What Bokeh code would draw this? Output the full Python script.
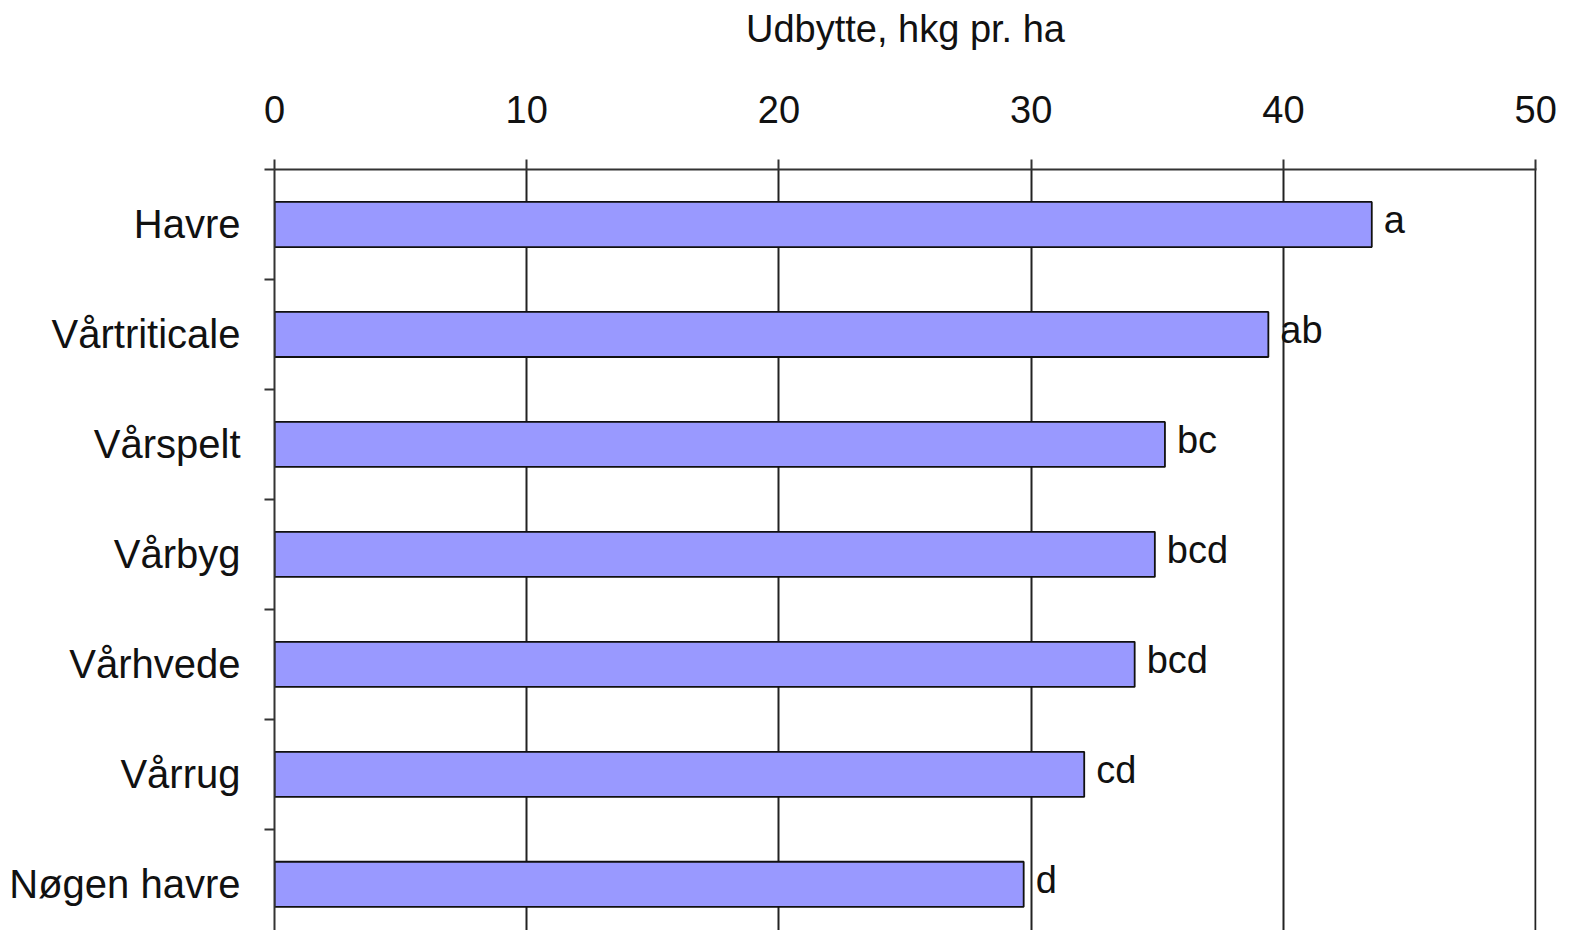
from bokeh.plotting import figure
from bokeh.models import Range1d, FixedTicker, ColumnDataSource, LabelSet
from bokeh.core.properties import value
from bokeh.embed import file_html
from bokeh.resources import INLINE

categories = ["Havre", "Vårtriticale", "Vårspelt", "Vårbyg", "Vårhvede", "Vårrug", "Nøgen havre"]
values = [43.5, 39.4, 35.3, 34.9, 34.1, 32.1, 29.7]
letters = ["a", "ab", "bc", "bcd", "bcd", "cd", "d"]
x_ticks = [0, 10, 20, 30, 40, 50]
x_title = "Udbytte, hkg pr. ha"

FONT = "Liberation Sans"
n = len(categories)
centers = [i + 0.5 for i in range(n)]
bounds = [float(i) for i in range(n + 1)]

src = ColumnDataSource(dict(y=centers, v=values, lab=letters))

p = figure(width=1566, height=930, output_backend="svg", toolbar_location=None,
           x_range=Range1d(0, 50.03), y_range=Range1d(6.92, 0),
           x_axis_location="above",
           min_border_left=274, min_border_right=30, min_border_top=169, min_border_bottom=0)
p.outline_line_color = None
p.background_fill_color = "white"

p.hbar(y="y", right="v", left=0, height=0.41, source=src,
       fill_color="#9999FF", line_color="#111111", line_width=1.8)

labels = LabelSet(x="v", y="y", text="lab", source=src, x_offset=12, y_offset=4,
                  text_font=value(FONT), text_font_size="38px", text_color="#111111",
                  text_baseline="middle", text_align="left")
p.add_layout(labels)

# x axis (top)
xa = p.xaxis[0]
xa.ticker = FixedTicker(ticks=x_ticks)
xa.axis_label = x_title
xa.axis_label_text_font = FONT
xa.axis_label_text_font_size = "38px"
xa.axis_label_text_font_style = "normal"
xa.axis_label_text_color = "#111111"
xa.axis_label_standoff = 43
xa.major_label_text_font = FONT
xa.major_label_text_font_size = "38px"
xa.major_label_text_color = "#111111"
xa.major_label_standoff = 37
xa.major_tick_out = 10
xa.major_tick_in = 0
xa.minor_tick_out = 0
xa.minor_tick_in = 0
xa.axis_line_color = "#333333"
xa.axis_line_width = 2
xa.major_tick_line_color = "#333333"
xa.major_tick_line_width = 2

# y axis (left): labels at band centres, ticks at band boundaries
ya = p.yaxis[0]
ya.ticker = FixedTicker(ticks=centers, minor_ticks=bounds)
ya.major_label_overrides = {c: name for c, name in zip(centers, categories)}
ya.major_label_text_font = FONT
ya.major_label_text_font_size = "40px"
ya.major_label_text_color = "#111111"
ya.major_label_standoff = 24
ya.major_tick_out = 0
ya.major_tick_in = 0
ya.minor_tick_out = 10
ya.minor_tick_in = 0
ya.minor_tick_line_color = "#333333"
ya.minor_tick_line_width = 2
ya.axis_line_color = "#333333"
ya.axis_line_width = 2

p.xgrid.grid_line_color = "#222222"
p.xgrid.grid_line_width = 2
p.ygrid.grid_line_color = None

open("out.html", "w").write(file_html(p, INLINE))
